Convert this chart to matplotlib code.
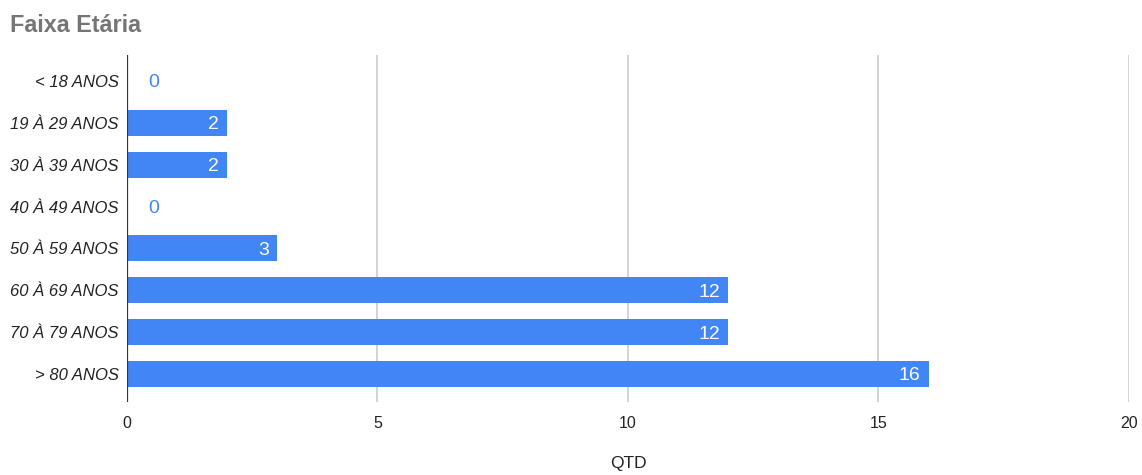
import matplotlib
matplotlib.use("Agg")
import matplotlib.pyplot as plt

plt.rcParams["font.family"] = ["Liberation Sans", "DejaVu Sans"]

faixas = ["< 18 ANOS", "19 À 29 ANOS", "30 À 39 ANOS", "40 À 49 ANOS",
          "50 À 59 ANOS", "60 À 69 ANOS", "70 À 79 ANOS", "> 80 ANOS"]
qtd = [0, 2, 2, 0, 3, 12, 12, 16]
xticks = [0, 5, 10, 15, 20]

azul = "#4285f4"

fig = plt.figure(figsize=(11.42, 4.75), dpi=100)
ax = fig.add_axes([0.1112, 0.1537, 0.8774, 0.7305])

pos = list(range(len(faixas)))
ax.barh(pos, qtd, height=0.62, color=azul, zorder=3)

for p, v in zip(pos, qtd):
    if v > 0:
        ax.annotate(str(v), (v, p), xytext=(-6, 0), textcoords="offset points",
                    ha="right", va="center_baseline", color="white", fontsize=14, zorder=4)
    else:
        ax.annotate(str(v), (v, p), xytext=(15, 0), textcoords="offset points",
                    ha="left", va="center_baseline", color=azul, fontsize=14, zorder=4)

ax.set_xlim(0, 20)
ax.set_ylim(7.67, -0.62)
ax.set_xticks(xticks)
ax.set_xticklabels([str(t) for t in xticks], fontsize=11.5, color="#222222")
ax.set_yticks(pos)
ax.set_yticklabels(faixas, fontsize=12, style="italic", color="#222222")
ax.tick_params(length=0, pad=10)
ax.tick_params(axis="y", pad=6)

for t in xticks[1:]:
    ax.axvline(t, color="#cccccc", lw=1.2, zorder=1)
ax.axvline(0, color="#333333", lw=1.6, zorder=5)

for s in ax.spines.values():
    s.set_visible(False)

ax.set_xlabel("QTD", fontsize=12.5, color="#222222")
ax.xaxis.set_label_coords(0.5, -0.155)
fig.text(0.009, 0.947, "Faixa Etária", fontsize=16.8, fontweight="bold",
         color="#757575", ha="left", va="center")

fig.savefig("out.png", dpi=100)
